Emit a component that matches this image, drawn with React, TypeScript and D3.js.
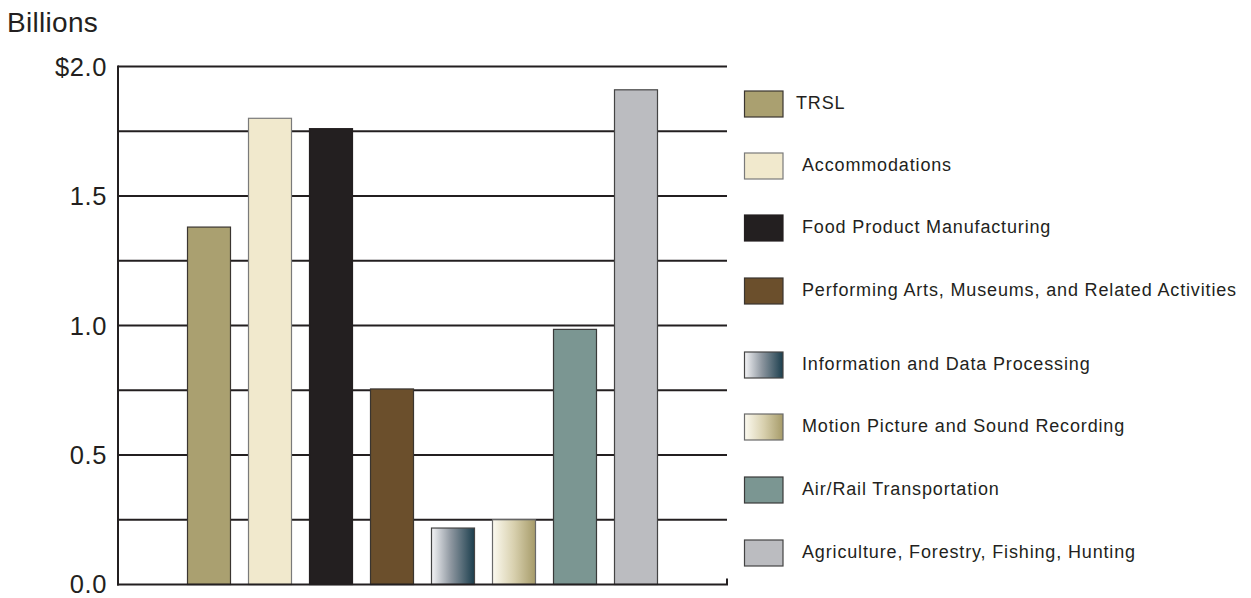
import React from "react";
import * as d3 from "d3";

const categories = [
  "TRSL",
  "Accommodations",
  "Food Product Manufacturing",
  "Performing Arts, Museums, and Related Activities",
  "Information and Data Processing",
  "Motion Picture and Sound Recording",
  "Air/Rail Transportation",
  "Agriculture, Forestry, Fishing, Hunting",
];
const values = [1.38, 1.8, 1.76, 0.755, 0.218, 0.25, 0.985, 1.91];
const tickValues = [0, 0.5, 1.0, 1.5, 2.0];
const tickLabels = ["0.0", "0.5", "1.0", "1.5", "$2.0"];
const gridValues = [0.25, 0.5, 0.75, 1.0, 1.25, 1.5, 1.75, 2.0];

const fills = [
  "#aaa070",
  "#f1e9cd",
  "#231f20",
  "#6b4f2c",
  "url(#gradInfo)",
  "url(#gradMotion)",
  "#7b9692",
  "#bbbcc0",
];
const strokes = ["#3a3530", "#7a7a7a", "#231f20", "#3a3530", "#444", "#6a6a6a", "#3a3a3a", "#444"];

const FONT = "'Liberation Sans', Arial, Helvetica, sans-serif";
const INK = "#231f20";

export default function App() {
  const W = 1251;
  const H = 598;
  const x0 = 118;
  const x1 = 727;
  const y = d3.scaleLinear().domain([0, 2]).range([584.5, 66.5]);
  const x = d3
    .scaleBand<string>()
    .domain(categories)
    .range([178.5, 666.5])
    .paddingInner(18 / 61)
    .paddingOuter(9 / 61);

  const legendTops = [91, 153, 215, 278, 352, 414, 477, 540];

  return (
    <svg
      width={W}
      height={H}
      style={{ position: "absolute", left: 0, top: 0, background: "#fff" }}
      fontFamily={FONT}
    >
      <defs>
        <linearGradient id="gradInfo" x1="0" x2="1" y1="0" y2="0">
          <stop offset="0" stopColor="#f4f4f6" />
          <stop offset="0.45" stopColor="#8e97a0" />
          <stop offset="1" stopColor="#1b3e4d" />
        </linearGradient>
        <linearGradient id="gradMotion" x1="0" x2="1" y1="0" y2="0">
          <stop offset="0" stopColor="#fcfaf0" />
          <stop offset="0.5" stopColor="#d8d0ae" />
          <stop offset="1" stopColor="#a69b69" />
        </linearGradient>
      </defs>

      <text x={7} y={32} fontSize={28} fill={INK} letterSpacing={0.3}>
        Billions
      </text>

      {/* gridlines */}
      {gridValues.map((v) => (
        <line key={v} x1={x0} x2={x1} y1={y(v)} y2={y(v)} stroke={INK} strokeWidth={2} />
      ))}

      {/* bars */}
      {categories.map((c, i) => (
        <rect
          key={c}
          x={x(c)}
          y={y(values[i])}
          width={x.bandwidth()}
          height={y(0) - y(values[i])}
          fill={fills[i]}
          stroke={strokes[i]}
          strokeWidth={1.2}
        />
      ))}

      {/* axes */}
      <line x1={x0} x2={x0} y1={y(2) - 1} y2={y(0) + 1} stroke={INK} strokeWidth={2} />
      <line x1={x0 - 1} x2={x1 + 1} y1={y(0)} y2={y(0)} stroke={INK} strokeWidth={2} />
      <line x1={x1} x2={x1} y1={y(0)} y2={y(0) - 6} stroke={INK} strokeWidth={2} />

      {tickValues.map((v, i) => (
        <text
          key={v}
          x={107}
          y={y(v) - (v === 0 ? 1 : 0)}
          dy="0.36em"
          textAnchor="end"
          fontSize={25.5}
          fill={INK}
          letterSpacing={0.6}
        >
          {tickLabels[i]}
        </text>
      ))}

      {/* legend */}
      {categories.map((c, i) => (
        <g key={c}>
          <rect
            x={744.5}
            y={legendTops[i]}
            width={38.5}
            height={26}
            fill={fills[i]}
            stroke={strokes[i]}
            strokeWidth={1.2}
          />
          <text
            x={i === 0 ? 796 : 802}
            y={legendTops[i] + 12}
            dy="0.35em"
            fontSize={18}
            fill={INK}
            letterSpacing={0.85}
          >
            {c}
          </text>
        </g>
      ))}
    </svg>
  );
}
